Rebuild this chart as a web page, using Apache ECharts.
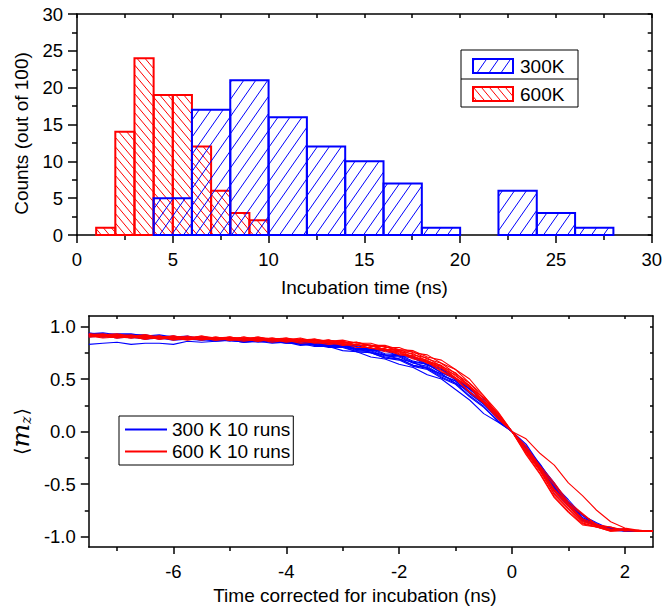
<!DOCTYPE html>
<html><head><meta charset="utf-8">
<script src="https://cdn.jsdelivr.net/npm/echarts@6/dist/echarts.min.js"></script>
<style>html,body{margin:0;padding:0;background:#fff}#c{width:665px;height:610px}</style>
</head><body><div id="c"></div>
<script>
// ---------- Top histogram data ----------
const redEdges = [1, 2, 3, 4, 5, 6, 7, 8, 9, 10];
const redCounts = [1, 14, 24, 19, 19, 12, 6, 3, 2];
const blueEdges = [4, 6, 8, 10, 12, 14, 16, 18, 20, 22, 24, 26, 28];
const blueCounts = [5, 17, 21, 16, 12, 10, 7, 1, 0, 6, 3, 1];

// ---------- Bottom curves data ----------
const timeX = [-7.5,-7.25,-7,-6.75,-6.5,-6.25,-6,-5.75,-5.5,-5.25,-5,-4.75,-4.5,-4.25,-4,-3.75,-3.5,-3.25,-3,-2.75,-2.5,-2.25,-2,-1.75,-1.5,-1.25,-1,-0.75,-0.5,-0.25,0,0.25,0.5,0.75,1,1.25,1.5,1.75,2,2.25,2.5];
const timeTicks = [-6, -4, -2, 0, 2];
const timeMinorTicks = [-7, -5, -3, -1, 1];
const mzTicks = [-1, -0.5, 0, 0.5, 1];
const mzMinorTicks = [-0.75, -0.25, 0.25, 0.75];

const blueRuns = [
[0.83,0.84,0.85,0.83,0.84,0.84,0.83,0.86,0.85,0.86,0.87,0.85,0.86,0.86,0.84,0.84,0.82,0.82,0.80,0.79,0.75,0.73,0.69,0.66,0.60,0.55,0.46,0.38,0.26,0.14,0.00,-0.14,-0.33,-0.50,-0.68,-0.79,-0.89,-0.92,-0.94,-0.95,-0.95],
[0.93,0.91,0.92,0.90,0.91,0.89,0.90,0.88,0.87,0.88,0.86,0.87,0.85,0.86,0.84,0.84,0.81,0.81,0.77,0.76,0.71,0.69,0.64,0.61,0.54,0.50,0.40,0.30,0.17,0.09,0.00,-0.12,-0.32,-0.49,-0.68,-0.79,-0.89,-0.92,-0.945,-0.95,-0.95],
[0.94,0.92,0.93,0.93,0.91,0.92,0.90,0.91,0.88,0.89,0.89,0.87,0.88,0.86,0.87,0.84,0.85,0.82,0.82,0.78,0.77,0.72,0.71,0.65,0.62,0.54,0.48,0.36,0.26,0.12,0.00,-0.17,-0.34,-0.54,-0.68,-0.83,-0.89,-0.93,-0.945,-0.95,-0.95],
[0.92,0.93,0.91,0.92,0.89,0.90,0.88,0.90,0.88,0.87,0.88,0.86,0.87,0.85,0.86,0.84,0.85,0.81,0.82,0.78,0.78,0.73,0.72,0.66,0.64,0.56,0.50,0.38,0.28,0.13,0.00,-0.16,-0.32,-0.53,-0.67,-0.82,-0.88,-0.93,-0.94,-0.95,-0.95],
[0.91,0.90,0.91,0.89,0.90,0.90,0.88,0.89,0.87,0.89,0.87,0.88,0.86,0.87,0.85,0.86,0.83,0.84,0.81,0.81,0.77,0.77,0.72,0.70,0.63,0.59,0.49,0.41,0.27,0.16,0.00,-0.18,-0.35,-0.56,-0.70,-0.84,-0.89,-0.94,-0.94,-0.95,-0.95],
[0.93,0.94,0.92,0.92,0.92,0.90,0.91,0.89,0.90,0.88,0.89,0.87,0.88,0.86,0.87,0.84,0.85,0.82,0.82,0.77,0.76,0.71,0.69,0.63,0.60,0.52,0.46,0.34,0.24,0.10,0.00,-0.15,-0.31,-0.51,-0.65,-0.80,-0.87,-0.93,-0.93,-0.95,-0.95],
[0.92,0.90,0.91,0.91,0.89,0.91,0.88,0.89,0.89,0.87,0.87,0.85,0.87,0.85,0.86,0.83,0.84,0.82,0.83,0.79,0.79,0.74,0.73,0.67,0.64,0.56,0.51,0.40,0.30,0.14,0.00,-0.17,-0.33,-0.55,-0.69,-0.83,-0.89,-0.94,-0.94,-0.95,-0.95],
[0.90,0.91,0.89,0.90,0.88,0.89,0.87,0.88,0.88,0.86,0.87,0.85,0.86,0.84,0.85,0.82,0.83,0.80,0.80,0.76,0.75,0.70,0.68,0.62,0.59,0.51,0.45,0.33,0.23,0.10,0.00,-0.14,-0.35,-0.52,-0.70,-0.80,-0.90,-0.92,-0.95,-0.95,-0.95],
[0.93,0.93,0.91,0.92,0.90,0.91,0.89,0.90,0.88,0.89,0.87,0.88,0.86,0.88,0.85,0.87,0.84,0.85,0.82,0.82,0.78,0.78,0.73,0.71,0.64,0.60,0.50,0.42,0.27,0.15,0.00,-0.18,-0.36,-0.57,-0.71,-0.85,-0.90,-0.94,-0.95,-0.95,-0.95],
[0.91,0.92,0.90,0.91,0.91,0.88,0.90,0.88,0.89,0.87,0.88,0.86,0.87,0.85,0.86,0.83,0.84,0.81,0.81,0.76,0.75,0.70,0.69,0.63,0.61,0.53,0.48,0.37,0.27,0.12,0.00,-0.17,-0.34,-0.55,-0.69,-0.84,-0.89,-0.93,-0.94,-0.95,-0.95]
];
const redRuns = [
[0.92,0.90,0.91,0.89,0.91,0.88,0.90,0.88,0.89,0.87,0.89,0.87,0.89,0.86,0.88,0.85,0.87,0.84,0.85,0.82,0.82,0.77,0.76,0.70,0.67,0.58,0.51,0.38,0.28,0.13,0.00,-0.07,-0.21,-0.32,-0.49,-0.61,-0.75,-0.86,-0.92,-0.94,-0.95],
[0.91,0.92,0.90,0.91,0.89,0.91,0.88,0.90,0.88,0.90,0.88,0.90,0.88,0.89,0.87,0.89,0.86,0.87,0.85,0.85,0.81,0.81,0.77,0.76,0.69,0.65,0.55,0.46,0.31,0.18,0.00,-0.19,-0.36,-0.57,-0.71,-0.85,-0.90,-0.94,-0.93,-0.95,-0.95],
[0.93,0.91,0.92,0.90,0.92,0.89,0.91,0.89,0.91,0.88,0.90,0.88,0.90,0.88,0.89,0.87,0.88,0.86,0.87,0.84,0.84,0.80,0.80,0.75,0.73,0.65,0.59,0.46,0.34,0.16,0.00,-0.20,-0.38,-0.60,-0.74,-0.87,-0.91,-0.94,-0.94,-0.95,-0.95],
[0.90,0.91,0.89,0.90,0.88,0.90,0.87,0.89,0.87,0.89,0.87,0.88,0.86,0.88,0.85,0.87,0.84,0.85,0.82,0.83,0.79,0.78,0.73,0.72,0.65,0.61,0.51,0.43,0.28,0.16,0.00,-0.15,-0.35,-0.51,-0.69,-0.79,-0.89,-0.91,-0.94,-0.94,-0.95],
[0.92,0.93,0.91,0.92,0.90,0.91,0.89,0.91,0.88,0.90,0.88,0.90,0.87,0.89,0.87,0.88,0.86,0.87,0.84,0.85,0.81,0.81,0.76,0.74,0.67,0.63,0.53,0.44,0.29,0.17,0.00,-0.18,-0.35,-0.56,-0.70,-0.84,-0.89,-0.94,-0.93,-0.95,-0.95],
[0.91,0.89,0.90,0.89,0.90,0.88,0.89,0.87,0.89,0.87,0.88,0.86,0.88,0.85,0.87,0.84,0.85,0.83,0.84,0.80,0.80,0.76,0.75,0.69,0.66,0.57,0.50,0.37,0.27,0.12,0.00,-0.14,-0.33,-0.49,-0.67,-0.78,-0.89,-0.91,-0.95,-0.94,-0.95],
[0.93,0.92,0.93,0.91,0.92,0.90,0.91,0.89,0.91,0.89,0.90,0.88,0.90,0.87,0.89,0.86,0.88,0.85,0.86,0.82,0.82,0.78,0.77,0.71,0.68,0.60,0.54,0.42,0.32,0.15,0.00,-0.19,-0.37,-0.59,-0.73,-0.86,-0.90,-0.94,-0.93,-0.95,-0.95],
[0.92,0.92,0.90,0.91,0.89,0.91,0.88,0.90,0.88,0.89,0.87,0.89,0.87,0.88,0.86,0.88,0.85,0.87,0.84,0.85,0.82,0.82,0.78,0.77,0.71,0.68,0.59,0.50,0.34,0.19,0.00,-0.21,-0.40,-0.62,-0.76,-0.88,-0.91,-0.95,-0.94,-0.95,-0.95],
[0.90,0.91,0.89,0.91,0.88,0.90,0.88,0.89,0.88,0.89,0.87,0.88,0.86,0.88,0.86,0.87,0.85,0.86,0.83,0.83,0.79,0.79,0.74,0.72,0.66,0.62,0.51,0.42,0.27,0.15,0.00,-0.17,-0.34,-0.55,-0.69,-0.83,-0.88,-0.93,-0.93,-0.95,-0.95],
[0.92,0.91,0.92,0.90,0.91,0.89,0.91,0.88,0.90,0.88,0.90,0.87,0.89,0.87,0.88,0.86,0.87,0.84,0.86,0.82,0.82,0.78,0.78,0.73,0.70,0.62,0.56,0.43,0.32,0.15,0.00,-0.22,-0.41,-0.63,-0.77,-0.89,-0.91,-0.95,-0.94,-0.95,-0.95]
];

// ---------- styling ----------
const FONT = "Liberation Sans";
const BLUE = '#0000ff', RED = '#ff0000';
const BLUE_K = 0.70, BLUE_S = 12;   // '/' hatch
const RED_K = -0.84, RED_S = 8;     // '\' hatch

function hatch(L, T, R, B, k, s, color) {
  const out = [];
  const cs = [L + k * T, L + k * B, R + k * T, R + k * B];
  const cmin = Math.min.apply(null, cs), cmax = Math.max.apply(null, cs);
  for (let c = Math.ceil(cmin / s) * s; c <= cmax; c += s) {
    const ya = (c - L) / k, yb = (c - R) / k;
    const lo = Math.max(T, Math.min(ya, yb)), hi = Math.min(B, Math.max(ya, yb));
    if (hi - lo > 0.8) out.push({type: 'line', silent: true,
      shape: {x1: c - k * lo, y1: lo, x2: c - k * hi, y2: hi},
      style: {stroke: color, lineWidth: 1}});
  }
  return out;
}

function binData(edges, counts) {
  return counts.map((v, i) => [edges[i], edges[i + 1], v]);
}

function hatchRender(color, k, s) {
  return function (params, api) {
    const x0 = api.value(0), x1 = api.value(1), h = api.value(2);
    if (!(h > 0)) return {type: 'group', children: []};
    const p0 = api.coord([x0, h]), p1 = api.coord([x1, 0]);
    const L = p0[0], T = p0[1], R = p1[0], B = p1[1];
    const children = hatch(L, T, R, B, k, s, color);
    children.push({type: 'rect', shape: {x: L, y: T, width: R - L, height: B - T},
      style: {fill: 'none', stroke: color, lineWidth: 2}});
    return {type: 'group', children: children};
  };
}

const lineStyleAx = {color: '#000', width: 1.5};
const tickStyle = {color: '#000', width: 1.5};
const labelStyle = {color: '#000', fontSize: 18.5, fontFamily: FONT};
const nameStyle = {color: '#000', fontSize: 19, fontFamily: FONT};

const rightTicksBottom = [-1, -0.75, -0.5, -0.25, 0, 0.25, 0.5, 0.75, 1];
const topTicksBottom = [-7, -6, -5, -4, -3, -2, -1, 0, 1, 2];

const series = [];
series.push({type: 'custom', name: '600K', xAxisIndex: 0, yAxisIndex: 0, renderItem: hatchRender(RED, RED_K, RED_S),
  encode: {x: [0, 1], y: 2}, data: binData(redEdges, redCounts), silent: true});
series.push({type: 'custom', name: '300K', xAxisIndex: 0, yAxisIndex: 0, renderItem: hatchRender(BLUE, BLUE_K, BLUE_S),
  encode: {x: [0, 1], y: 2}, data: binData(blueEdges, blueCounts), silent: true});
blueRuns.forEach(run => series.push({type: 'line', name: '300 K 10 runs', xAxisIndex: 2, yAxisIndex: 2,
  symbol: 'none', showSymbol: false, lineStyle: {color: BLUE, width: 1.1}, itemStyle: {color: BLUE},
  data: timeX.map((x, i) => [x, run[i]])}));
redRuns.forEach(run => series.push({type: 'line', name: '600 K 10 runs', xAxisIndex: 2, yAxisIndex: 2,
  symbol: 'none', showSymbol: false, lineStyle: {color: RED, width: 1.1}, itemStyle: {color: RED},
  data: timeX.map((x, i) => [x, run[i]])}));

// top legend (hatched swatches)
const legendTop = [
  {type: 'rect', shape: {x: 461, y: 50, width: 117, height: 57}, style: {fill: '#fff', stroke: '#000', lineWidth: 1}},
  {type: 'line', shape: {x1: 461, y1: 79, x2: 578, y2: 79}, style: {stroke: '#000', lineWidth: 1}}
].concat(hatch(473, 59, 513, 73, BLUE_K, BLUE_S, BLUE))
 .concat([{type: 'rect', shape: {x: 473, y: 59, width: 40, height: 14}, style: {fill: 'none', stroke: BLUE, lineWidth: 2}},
          {type: 'text', x: 520, y: 66, style: {text: '300K', fontSize: 19, fontFamily: FONT, fill: '#000', verticalAlign: 'middle'}}])
 .concat(hatch(473, 87, 513, 101, RED_K, RED_S, RED))
 .concat([{type: 'rect', shape: {x: 473, y: 87, width: 40, height: 14}, style: {fill: 'none', stroke: RED, lineWidth: 2}},
          {type: 'text', x: 520, y: 94, style: {text: '600K', fontSize: 19, fontFamily: FONT, fill: '#000', verticalAlign: 'middle'}}]);

const lineIcon = 'path://M0 0H42V2H0Z';

const option = {
  animation: false,
  backgroundColor: '#fff',
  grid: [
    {left: 77, top: 14, width: 579, height: 221},
    {left: 82, top: 316, width: 571, height: 231}
  ],
  xAxis: [
    {gridIndex: 0, type: 'value', min: 0, max: 30, interval: 5, position: 'bottom',
     axisLine: {show: true, onZero: false, lineStyle: lineStyleAx},
     axisTick: {show: true, inside: false, length: 8, lineStyle: tickStyle},
     minorTick: {show: true, splitNumber: 2, length: 5, lineStyle: tickStyle},
     axisLabel: Object.assign({margin: 15}, labelStyle),
     splitLine: {show: false}, minorSplitLine: {show: false},
     name: 'Incubation time (ns)', nameLocation: 'middle', nameGap: 43, nameTextStyle: nameStyle},
    {gridIndex: 0, type: 'value', min: 0, max: 30, interval: 2.5, position: 'top',
     axisLine: {show: true, onZero: false, lineStyle: lineStyleAx},
     axisTick: {show: true, inside: true, length: 4, lineStyle: tickStyle},
     axisLabel: {show: false}, splitLine: {show: false}},
    {gridIndex: 1, type: 'value', min: -7.5, max: 2.5, position: 'bottom',
     axisLine: {show: true, onZero: false, lineStyle: lineStyleAx},
     axisTick: {show: true, inside: false, length: 7, lineStyle: tickStyle, customValues: timeTicks},
     axisLabel: Object.assign({margin: 15, customValues: timeTicks}, labelStyle),
     splitLine: {show: false},
     name: 'Time corrected for incubation (ns)', nameLocation: 'middle', nameGap: 39,
     nameTextStyle: Object.assign({padding: [0, 32, 0, 0]}, nameStyle)},
    {gridIndex: 1, type: 'value', min: -7.5, max: 2.5, position: 'bottom',
     axisLine: {show: false, onZero: false},
     axisTick: {show: true, inside: false, length: 4, lineStyle: tickStyle, customValues: timeMinorTicks},
     axisLabel: {show: false}, splitLine: {show: false}},
    {gridIndex: 1, type: 'value', min: -7.5, max: 2.5, position: 'top',
     axisLine: {show: true, onZero: false, lineStyle: lineStyleAx},
     axisTick: {show: true, inside: true, length: 3, lineStyle: tickStyle, customValues: topTicksBottom},
     axisLabel: {show: false}, splitLine: {show: false}}
  ],
  yAxis: [
    {gridIndex: 0, type: 'value', min: 0, max: 30, interval: 5, position: 'left',
     axisLine: {show: true, onZero: false, lineStyle: lineStyleAx},
     axisTick: {show: true, inside: false, length: 9, lineStyle: tickStyle},
     minorTick: {show: true, splitNumber: 2, length: 5, lineStyle: tickStyle},
     axisLabel: Object.assign({margin: 14}, labelStyle),
     splitLine: {show: false}, minorSplitLine: {show: false},
     name: 'Counts (out of 100)', nameLocation: 'middle', nameGap: 46,
     nameTextStyle: Object.assign({padding: [0, 18, 0, 0]}, nameStyle)},
    {gridIndex: 0, type: 'value', min: 0, max: 30, interval: 2.5, position: 'right',
     axisLine: {show: true, onZero: false, lineStyle: lineStyleAx},
     axisTick: {show: true, inside: true, length: 4, lineStyle: tickStyle},
     axisLabel: {show: false}, splitLine: {show: false}},
    {gridIndex: 1, type: 'value', min: -1.1, max: 1.1, position: 'left',
     axisLine: {show: true, onZero: false, lineStyle: lineStyleAx},
     axisTick: {show: true, inside: false, length: 8, lineStyle: tickStyle, customValues: mzTicks},
     axisLabel: Object.assign({margin: 13, customValues: mzTicks, formatter: v => v.toFixed(1)}, labelStyle),
     splitLine: {show: false},
     name: '{b|⟨}{m|m}{s|z}{b|⟩}', nameLocation: 'middle', nameGap: 52,
     nameTextStyle: {color: '#000', rich: {
       b: {fontSize: 19, fontFamily: 'DejaVu Sans', color: '#000'},
       m: {fontSize: 25, fontFamily: 'DejaVu Serif', fontStyle: 'italic', color: '#000'},
       s: {fontSize: 14, fontFamily: 'DejaVu Serif', fontStyle: 'italic', color: '#000', verticalAlign: 'bottom', padding: [10, 1, 0, 0]}
     }}},
    {gridIndex: 1, type: 'value', min: -1.1, max: 1.1, position: 'left',
     axisLine: {show: false, onZero: false},
     axisTick: {show: true, inside: false, length: 4, lineStyle: tickStyle, customValues: mzMinorTicks},
     axisLabel: {show: false}, splitLine: {show: false}},
    {gridIndex: 1, type: 'value', min: -1.1, max: 1.1, position: 'right',
     axisLine: {show: true, onZero: false, lineStyle: lineStyleAx},
     axisTick: {show: true, inside: true, length: 3, lineStyle: tickStyle, customValues: rightTicksBottom},
     axisLabel: {show: false}, splitLine: {show: false}}
  ],
  legend: {
    data: [{name: '300 K 10 runs', icon: lineIcon}, {name: '600 K 10 runs', icon: lineIcon}],
    orient: 'vertical', left: 119, top: 416,
    padding: [4, 3, 4, 6], itemGap: 3, itemWidth: 42, itemHeight: 2,
    borderColor: '#000', borderWidth: 1, backgroundColor: '#fff',
    textStyle: {fontSize: 19, fontFamily: FONT, color: '#000'}
  },
  graphic: [{type: 'group', children: legendTop}],
  series: series
};

const chart = echarts.init(document.getElementById('c'), null, {renderer: 'svg'});
chart.setOption(option);
</script></body></html>
